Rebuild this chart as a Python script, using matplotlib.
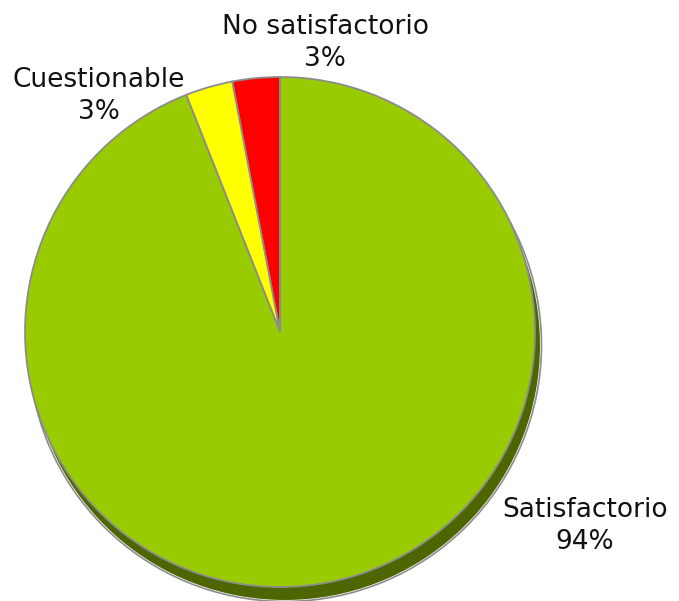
import matplotlib
matplotlib.use("Agg")
import matplotlib.pyplot as plt

categories = ["No satisfactorio", "Cuestionable", "Satisfactorio"]
shares = [3, 3, 94]
colors = ["#FF0000", "#FFFF00", "#99CC00"]

W, H = 679, 601
fig = plt.figure(figsize=(W / 100, H / 100), dpi=100)
ax = fig.add_axes([0, 0, 1, 1])
ax.set_xlim(0, W)
ax.set_ylim(0, H)
ax.set_aspect("equal")
ax.axis("off")

cx, cy, r = 280, 269, 255

# dark rim underneath, shifted down-right
ax.pie(shares, center=(cx + 5, cy - 13), radius=r, startangle=90, counterclock=True,
       colors=["#4D6600"] * len(shares),
       wedgeprops=dict(edgecolor="#4D6600", linewidth=0))
ax.pie([1], center=(cx + 5, cy - 13), radius=r + 1.5, colors=["none"],
       wedgeprops=dict(edgecolor="#8C8C8C", linewidth=1.2, fill=False))
ax.pie(shares, center=(cx, cy), radius=r, startangle=90, counterclock=True,
       colors=colors, wedgeprops=dict(edgecolor="#8C8C8C", linewidth=1.3))
ax.set_xlim(0, W)
ax.set_ylim(0, H)

label_pos = [(325, 558), (99, 505), (585, 75)]
for name, val, (x, y) in zip(categories, shares, label_pos):
    ax.text(x, y, f"{name}\n{val}%", ha="center", va="center", fontsize=19,
            family="DejaVu Sans", linespacing=1.32, color="#111111")

fig.savefig("out.png", dpi=100, facecolor="white")
